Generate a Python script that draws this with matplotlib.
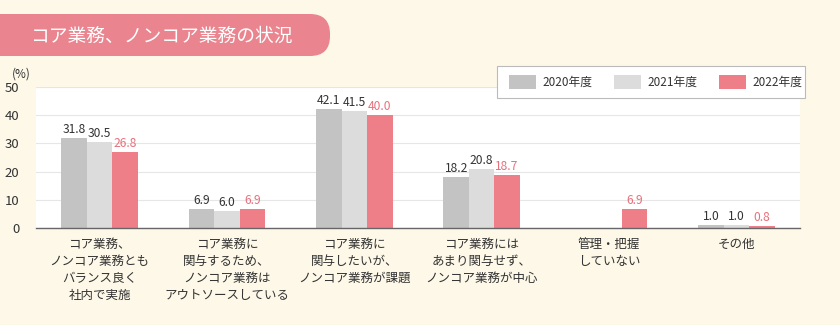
import numpy as np
import matplotlib.pyplot as plt
from matplotlib.patches import FancyBboxPatch, Rectangle

plt.rcParams['font.family'] = ['Noto Sans CJK JP', 'DejaVu Sans']

categories = [
    'コア業務、\nノンコア業務とも\nバランス良く\n社内で実施',
    'コア業務に\n関与するため、\nノンコア業務は\nアウトソースしている',
    'コア業務に\n関与したいが、\nノンコア業務が課題',
    'コア業務には\nあまり関与せず、\nノンコア業務が中心',
    '管理・把握\nしていない',
    'その他',
]
years = ['2020年度', '2021年度', '2022年度']
v2020 = [31.8, 6.9, 42.1, 18.2, None, 1.0]
v2021 = [30.5, 6.0, 41.5, 20.8, None, 1.0]
v2022 = [26.8, 6.9, 40.0, 18.7, 6.9, 0.8]

colors = ['#c3c3c3', '#dcdcdc', '#ee7f89']
label_colors = ['#333333', '#333333', '#e8707c']
bg = '#fdf8e8'

fig = plt.figure(figsize=(8.4, 3.25), dpi=100)
fig.patch.set_facecolor(bg)

ax = fig.add_axes([36 / 840, 1 - 228 / 325, 764 / 840, 141 / 325], zorder=1)
ax.set_facecolor('white')

# pixel-space overlay for the banner and legend box, drawn above the plot
ov = fig.add_axes([0, 0, 1, 1], zorder=2)
ov.set_xlim(0, 840)
ov.set_ylim(325, 0)
ov.axis('off')

x = np.arange(len(categories))
w = 0.2
for i, (vals, c, lc) in enumerate(zip([v2020, v2021, v2022], colors, label_colors)):
    pos = x + (i - 1) * w
    h = [v if v is not None else 0 for v in vals]
    bars = ax.bar(pos, h, width=w, color=c, label=years[i], zorder=3)
    for b, v in zip(bars, vals):
        if v is None:
            continue
        ax.text(b.get_x() + b.get_width() / 2, v + 0.7, f'{v:.1f}',
                ha='center', va='bottom', fontsize=8.7, color=lc, zorder=4)

ax.set_xlim(-0.5, len(categories) - 0.5)
ax.set_ylim(0, 50)
ax.set_yticks(range(0, 51, 10))
ax.yaxis.grid(True, color='#e6e6e6', linewidth=0.8, zorder=0)
ax.tick_params(axis='y', length=0, labelsize=9.5, colors='#333333', pad=12)
ax.tick_params(axis='x', length=0, pad=7)
ax.set_xticks(x)
ax.set_xticklabels(categories, fontsize=9, color='#333333', linespacing=1.4, va='top')
for s in ['left', 'right', 'top']:
    ax.spines[s].set_visible(False)
ax.spines['bottom'].set_color('#666666')
ax.spines['bottom'].set_linewidth(1.0)
ax.spines['bottom'].set_zorder(5)
ov.text(12, 74, '(%)', fontsize=8.5, color='#333333', va='center')

# title banner
ov.add_patch(FancyBboxPatch((-30, 14), 360, 42,
                            boxstyle='round,pad=0,rounding_size=20',
                            facecolor='#ea848e', edgecolor='none'))
ov.text(30, 36, 'コア業務、ノンコア業務の状況', fontsize=13.5,
        color='white', va='center', ha='left')

# legend box
ov.add_patch(Rectangle((497, 66), 308, 32, facecolor='white',
                       edgecolor='#bbbbbb', linewidth=0.8))
for i, (yr, c) in enumerate(zip(years, colors)):
    x0 = 509 + i * 105
    ov.add_patch(Rectangle((x0, 75), 27, 14, facecolor=c, edgecolor='none'))
    ov.text(x0 + 33, 82, yr, fontsize=8.5, color='#333333',
            va='center', ha='left')

fig.savefig('out.png', dpi=100, facecolor=bg)
